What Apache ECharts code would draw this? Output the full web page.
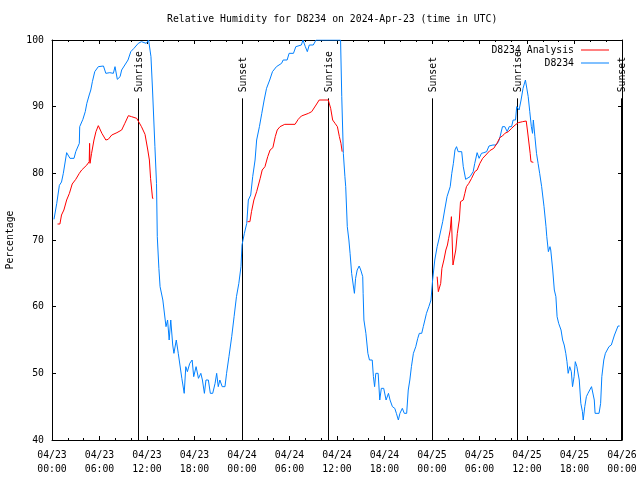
<!DOCTYPE html>
<html>
<head>
<meta charset="utf-8">
<script src="https://cdn.jsdelivr.net/npm/echarts@6/dist/echarts.min.js"></script>
<style>html,body{margin:0;padding:0;background:#fff;}#c{width:640px;height:480px;}</style>
</head>
<body>
<div id="c"></div>
<script>
// hours since 2024-04-23 00:00 UTC
var obsHours = [0.25,0.6,0.93,1.2,1.43,1.85,2.27,2.78,3.0,3.45,3.5,3.9,4.2,4.4,4.7,4.9,5.1,5.4,5.85,6.5,6.8,7.3,7.75,7.96,8.25,8.6,8.8,9.2,9.6,9.95,10.35,10.9,11.3,11.5,11.9,12.2,12.4,12.5,12.7,13.0,13.2,13.3,13.5,13.65,14.0,14.3,14.4,14.6,14.8,15.0,15.25,15.4,15.7,15.95,16.2,16.4,16.7,16.9,17.1,17.4,17.7,17.9,18.2,18.5,18.8,19.0,19.25,19.45,19.75,20.0,20.3,20.6,20.8,21.0,21.2,21.5,21.85,22.05,22.35,22.7,23.0,23.3,23.6,23.87,24.0,24.3,24.6,24.8,25.1,25.35,25.65,25.85,26.2,26.5,26.8,27.1,27.5,27.85,28.35,29.0,29.2,29.7,29.95,30.5,30.8,31.5,31.7,32.0,32.25,32.5,33.0,33.35,34.0,35.0,36.0,36.45,36.6,36.8,37.0,37.1,37.3,37.5,37.65,37.85,38.05,38.2,38.35,38.55,38.8,39.0,39.25,39.3,39.4,39.65,39.9,40.1,40.45,40.6,40.75,40.9,41.2,41.4,41.6,41.9,42.2,42.5,42.7,43.0,43.3,43.5,43.75,43.95,44.25,44.5,44.8,45.0,45.2,45.4,45.65,45.95,46.2,46.4,46.7,46.9,47.1,47.3,47.6,47.87,48.08,48.35,48.65,48.85,49.1,49.35,49.6,49.9,50.3,50.5,50.7,50.9,51.1,51.3,51.75,51.95,52.25,52.8,53.2,53.4,53.7,53.95,54.25,54.55,54.9,55.2,55.7,56.1,56.4,56.6,56.9,57.2,57.5,57.75,58.05,58.25,58.55,58.7,59.0,59.25,59.5,59.8,59.95,60.15,60.35,60.55,60.7,60.8,61.0,61.2,61.4,61.6,61.85,62.15,62.4,62.5,62.7,62.9,63.0,63.25,63.45,63.65,63.8,64.0,64.3,64.5,64.7,64.9,65.05,65.2,65.4,65.6,65.75,65.95,66.1,66.3,66.6,66.8,67.0,67.1,67.3,67.5,67.7,67.9,68.15,68.35,68.5,68.6,69.1,69.3,69.45,69.7,69.9,70.15,70.35,70.65,70.85,71.05,71.3,71.5,71.7];
var obsValues = [73.1,75.5,78.2,78.7,80,83.1,82.25,82.25,83.25,84.5,87,88.1,89.25,90.5,91.75,92.5,93.75,95.25,96,96.1,95,95.1,95,96,94.1,94.5,95.5,96.25,97,98.25,98.75,99.5,99.75,100,99.5,100,100,97.5,92.5,84,78.5,70.5,65.75,63,61,58,57,58,55,58,54.25,53,55,53,53,49.25,47,51,50.25,51.5,52,49.5,51,49.25,50,49,47,49,49,47,47,48.5,50,48,49,48,48,50,52.5,55.5,58.5,61.5,63.5,66,69.25,71,72.5,76,76.75,79.5,82,85,87,89,91,92.75,94,95.25,96,96.5,97,97,98,98,99,99.25,100,99,98.25,99.25,99.25,100,100,100,100,100,91.5,83,79.5,78,72,70,68,65,63.25,62,64.25,65.5,66.1,65.5,64.5,62,58,56,53,52,52,49.5,48,50,50,46,47.75,47.75,46,47,46,45,44.75,44,43,44,44.75,44,44,47.5,49,51,53,54,55.25,56,56,57,58,59,60,61,64,67,69,70,70.25,72.75,74.5,76.5,78,80,81.5,83.5,84,83.25,83.25,81,79.1,79.5,80.25,81.5,83.1,82.25,83,83.1,83.25,84.1,84.25,84.25,84.75,85.5,87,87,86.25,87,87,88,88,90,89.5,91,92.75,94,94.1,91.5,89.25,87,86,88,85.5,83,81.5,80,78,75,72,70.5,68.25,69,68.5,65.5,62.5,61.5,58.5,57.5,56.5,55,54.25,53,51.75,50,51,50.25,48,49.5,51.75,51,49,45.5,44.25,43,45,46.5,47,47.25,48,48,46,44,44,45.5,49.5,52,53,53.25,54,54.25,55,55.75,56.5,57.1,57.1];

var anaHours = [0.7,1.0,1.2,1.5,1.85,2.2,2.55,3.0,3.45,3.75,4.4,4.7,4.75,4.8,5.0,5.3,5.55,5.85,6.3,6.8,7.1,7.55,8.2,8.8,9.2,9.65,10.05,10.7,10.95,11.3,11.75,11.95,12.1,12.3,12.45,12.7,12.8,18.0,
  24.7,25.0,25.2,25.5,25.85,26.3,26.55,26.9,27.25,27.55,27.9,28.2,28.45,28.8,29.4,30.7,31.1,31.5,32.4,32.8,33.35,33.75,34.9,35.2,35.45,35.75,36.05,36.3,36.5,36.65,42.0,
  48.65,48.8,48.9,49.1,49.25,49.5,49.75,49.95,50.1,50.3,50.45,50.65,50.7,51.0,51.2,51.35,51.45,51.6,51.95,52.15,52.35,52.65,53.0,53.4,53.7,54.05,54.4,54.8,55.3,55.8,56.2,56.6,56.9,57.2,57.65,58.05,58.5,58.9,59.45,59.9,60.05,60.2,60.4,60.5,60.8];
var anaValues = [72.4,72.4,73.75,74.5,76,77,78.4,79.1,80,80.5,81.25,81.75,84.5,81.5,83,85,86.25,87.15,86,85,85.1,85.75,86.1,86.5,87.5,88.65,88.5,88.25,88,87,85.85,85.6,83.5,82,79.25,76.25,76.25,null,
  72.75,72.75,74.25,76,77.25,79.25,80.5,81,82.5,83.5,83.85,85.5,86.5,87,87.35,87.35,88.1,88.6,89,89.25,90.25,91,91,89.75,88,87.5,87,85.5,84.5,83.25,null,
  64.5,62.25,62.25,63.5,65.75,67,68.5,69.25,70.25,71.5,73.5,66.25,66.25,68.5,71,72.25,73,75.75,76,77,78,78.5,79.25,80.25,80.5,81.5,82.25,82.75,83.4,83.75,84.5,85.4,85.6,86,86.25,86.75,87.25,87.6,87.75,87.85,86.5,85,83,81.75,81.65];

var eventHours = [10.9, 23.94, 34.9, 47.96, 58.75, 71.9];
var eventNames = ['Sunrise','Sunset','Sunrise','Sunset','Sunrise','Sunset'];
var eventLineTop = 91.25;

var tickDates = ['04/23','04/23','04/23','04/23','04/24','04/24','04/24','04/24','04/25','04/25','04/25','04/25','04/26'];
var tickTimes = ['00:00','06:00','12:00','18:00','00:00','06:00','12:00','18:00','00:00','06:00','12:00','18:00','00:00'];

var titleText = 'Relative Humidity for D8234 on 2024-Apr-23 (time in UTC)';
var nameAna = 'D8234 Analysis', nameObs = 'D8234';

var FONT = 'DejaVu Sans Mono';
var FS = 9.8;

function zip(a, b) { return a.map(function (h, i) { return [h, b[i]]; }); }

var chart = echarts.init(document.getElementById('c'), null, {renderer: 'canvas'});

var axisCommon = {
  type: 'value', min: 0, max: 72, interval: 6,
  axisLine: {show: true, onZero: false, lineStyle: {color: '#000', width: 1}},
  axisTick: {show: true, inside: true, length: 4, lineStyle: {color: '#000'}},
  minorTick: {show: true, splitNumber: 3, length: 2, lineStyle: {color: '#000'}},
  splitLine: {show: false}
};
var yCommon = {
  type: 'value', min: 40, max: 100, interval: 10,
  axisLine: {show: true, onZero: false, lineStyle: {color: '#000', width: 1}},
  axisTick: {show: true, inside: true, length: 4, lineStyle: {color: '#000'}},
  splitLine: {show: false}
};

chart.setOption({
  animation: false,
  backgroundColor: '#fff',
  title: {
    text: titleText, left: 167, top: 14, padding: 0,
    textStyle: {fontFamily: FONT, fontSize: FS, fontWeight: 'normal', color: '#000'}
  },
  legend: {
    data: [nameAna, nameObs], orient: 'vertical', right: 31, top: 44, align: 'right',
    icon: 'rect', itemWidth: 28, itemHeight: 1, itemGap: 1, padding: 0,
    textStyle: {fontFamily: FONT, fontSize: FS, color: '#000', lineHeight: 12, padding: [0, 2, 0, 0]}
  },
  grid: {left: 52, top: 40, width: 570, height: 400, containLabel: false, outerBoundsMode: 'none'},
  xAxis: [
    Object.assign({}, axisCommon, {
      position: 'bottom',
      axisLabel: {
        fontFamily: FONT, fontSize: FS, color: '#000', margin: 8, lineHeight: 14,
        formatter: function (v) { var i = Math.round(v / 6); return tickDates[i] + '\n' + tickTimes[i]; }
      }
    }),
    Object.assign({}, axisCommon, {position: 'top', axisLabel: {show: false}})
  ],
  yAxis: [
    Object.assign({}, yCommon, {
      position: 'left',
      name: 'Percentage', nameLocation: 'middle', nameGap: 37, nameRotate: 90,
      nameTextStyle: {fontFamily: FONT, fontSize: FS, color: '#000'},
      axisLabel: {fontFamily: FONT, fontSize: FS, color: '#000', margin: 8}
    }),
    Object.assign({}, yCommon, {position: 'right', axisLabel: {show: false}})
  ],
  series: [
    {
      type: 'custom', name: 'events', silent: true, clip: false,
      data: eventHours.map(function (h, i) { return [h, i]; }),
      renderItem: function (params, api) {
        var h = api.value(0), idx = api.value(1);
        var p0 = api.coord([h, 40]);
        var p1 = api.coord([h, eventLineTop]);
        var x = Math.round(p0[0]) + 0.5;
        return {
          type: 'group',
          children: [
            {type: 'line', shape: {x1: x, y1: p0[1], x2: x, y2: p1[1]}, style: {stroke: '#000', lineWidth: 1}},
            {type: 'text', x: x + 0.5, y: p1[1] - 6, rotation: Math.PI / 2,
             style: {text: eventNames[idx], fill: '#000', font: FS + 'px "' + FONT + '"', align: 'left', verticalAlign: 'middle'}}
          ]
        };
      },
      z: 1
    },
    {
      type: 'line', name: nameAna, data: zip(anaHours, anaValues), showSymbol: false, connectNulls: false,
      lineStyle: {color: '#ff0000', width: 1}, itemStyle: {color: '#ff0000'}, z: 3
    },
    {
      type: 'line', name: nameObs, data: zip(obsHours, obsValues), showSymbol: false,
      lineStyle: {color: '#0080ff', width: 1}, itemStyle: {color: '#0080ff'}, z: 2
    }
  ]
});
</script>
</body>
</html>
